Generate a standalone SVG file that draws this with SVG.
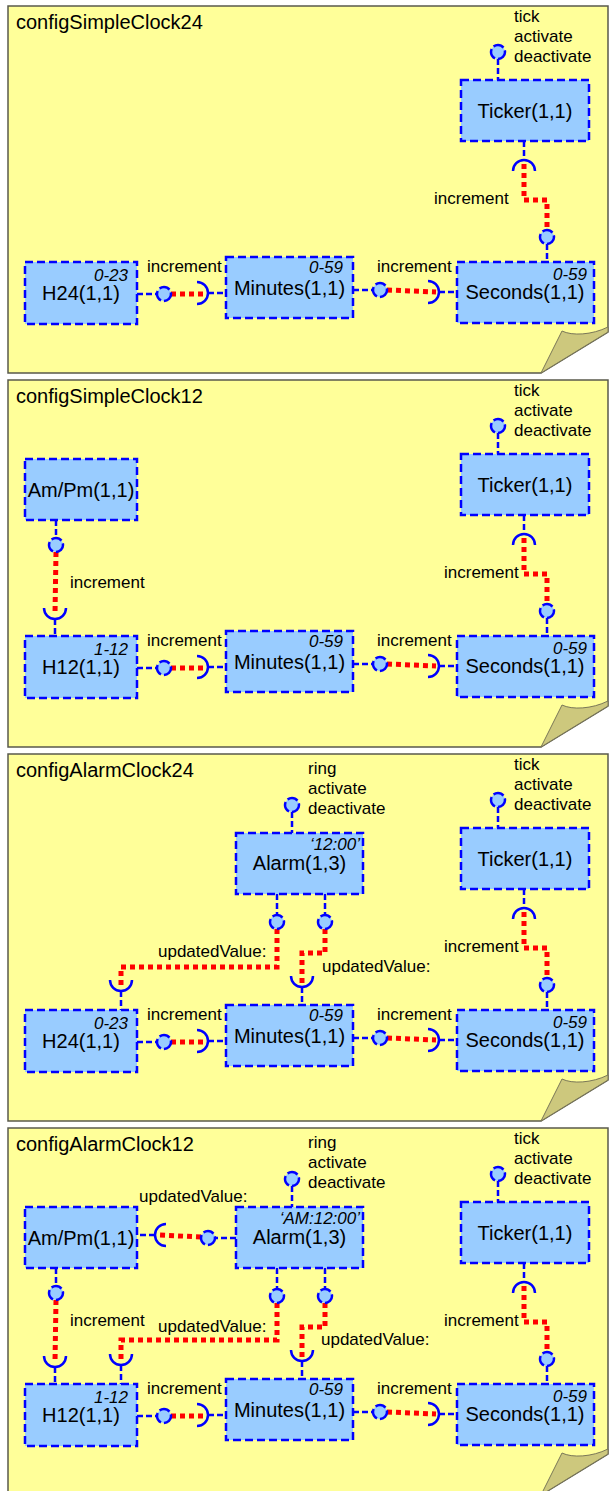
<svg xmlns="http://www.w3.org/2000/svg" width="609" height="1491" viewBox="0 0 609 1491">
<style>
.panel{fill:#ffff99;stroke:#5a5a4c;stroke-width:1.5}
.curl{fill:#cdc87d;stroke:#7a7758;stroke-width:1}
.box{fill:#99ccff;stroke:#0000ff;stroke-width:2.5;stroke-dasharray:8 4}
text{font-family:"Liberation Sans",Arial,Helvetica,sans-serif;fill:#000}
.title{font-size:20px}
.name{font-size:20px;text-anchor:middle}
.mult{font-size:17px;font-style:italic;text-anchor:end}
.lbl{font-size:17px}
.wire{fill:none;stroke:#0000ff;stroke-width:2.5;stroke-dasharray:6 3}
.lol{fill:#99ccff;stroke:#0000ff;stroke-width:2.5;stroke-dasharray:11 3}
.sock{fill:none;stroke:#0000ff;stroke-width:2.5}
.link{fill:none;stroke:#ff0000;stroke-width:5;stroke-dasharray:5 4}
</style>
<rect x="0" y="0" width="609" height="1491" fill="#ffffff"/>

<!-- ================= PANEL 1 ================= -->
<g id="panel1">
  <path class="panel" d="M8,6 H608 V332 L541,373 H8 Z"/>
  <path class="curl" d="M541,373 L562,331 C572,336 592,335 608,327 L608,332 Z"/>
  <text class="title" x="16" y="29">configSimpleClock24</text>
  <g id="p1-connectors">
    <path class="link" d="M524,164 V200 H547 V230"/>
    <path class="link" d="M171,294 H205"/>
    <path class="link" d="M387,290 L436,292"/>
    <path class="wire" d="M498,59 V80"/>
    <path class="wire" d="M524,141 V160"/>
    <path class="wire" d="M547,244 V262"/>
    <path class="wire" d="M137,294 H157"/>
    <path class="wire" d="M208,293 H226"/>
    <path class="wire" d="M353,290 H373"/>
    <path class="wire" d="M439,292 H457"/>
    <path class="sock" d="M513,171 A11,11 0 0 1 535,171"/>
    <path class="sock" d="M197,282 A11,11 0 0 1 197,304"/>
    <path class="sock" d="M428,281 A11,11 0 0 1 428,303"/>
    <circle class="lol" cx="498" cy="52" r="7"/>
    <circle class="lol" cx="547" cy="237" r="7"/>
    <circle class="lol" cx="164" cy="294" r="7"/>
    <circle class="lol" cx="380" cy="290" r="7"/>
    <text class="lbl" x="514" y="22">tick</text>
    <text class="lbl" x="514" y="42">activate</text>
    <text class="lbl" x="514" y="62">deactivate</text>
    <text class="lbl" x="434" y="204">increment</text>
    <text class="lbl" x="147" y="272">increment</text>
    <text class="lbl" x="377" y="272">increment</text>
  </g>
  <g id="p1-ticker"><rect class="box" x="461" y="80" width="128" height="61"/><text class="name" x="525" y="118">Ticker(1,1)</text></g>
  <g id="p1-seconds"><rect class="box" x="457" y="262" width="137" height="61"/><text class="name" x="525" y="299">Seconds(1,1)</text><text class="mult" x="587" y="280">0-59</text></g>
  <g id="p1-minutes"><rect class="box" x="226" y="257" width="127" height="61"/><text class="name" x="289.5" y="295">Minutes(1,1)</text><text class="mult" x="343" y="273">0-59</text></g>
  <g id="p1-h24"><rect class="box" x="25" y="262" width="112" height="62"/><text class="name" x="81" y="300">H24(1,1)</text><text class="mult" x="128" y="281">0-23</text></g>
</g>

<!-- ================= PANEL 2 ================= -->
<g id="panel2" transform="translate(0,374)">
  <path class="panel" d="M8,6 H608 V332 L541,373 H8 Z"/>
  <path class="curl" d="M541,373 L562,331 C572,336 592,335 608,327 L608,332 Z"/>
  <text class="title" x="16" y="29">configSimpleClock12</text>
  <g id="p2-connectors">
    <path class="link" d="M524,164 V200 H547 V230"/>
    <path class="link" d="M171,294 H205"/>
    <path class="link" d="M387,290 L436,292"/>
    <path class="link" d="M56,178 L55,240"/>
    <path class="wire" d="M498,59 V80"/>
    <path class="wire" d="M524,141 V160"/>
    <path class="wire" d="M547,244 V262"/>
    <path class="wire" d="M137,294 H157"/>
    <path class="wire" d="M208,293 H226"/>
    <path class="wire" d="M353,290 H373"/>
    <path class="wire" d="M439,292 H457"/>
    <path class="wire" d="M56,146 V164"/>
    <path class="wire" d="M55,245 V262"/>
    <path class="sock" d="M513,171 A11,11 0 0 1 535,171"/>
    <path class="sock" d="M197,282 A11,11 0 0 1 197,304"/>
    <path class="sock" d="M428,281 A11,11 0 0 1 428,303"/>
    <path class="sock" d="M44,234 A11,11 0 0 0 66,234"/>
    <circle class="lol" cx="498" cy="52" r="7"/>
    <circle class="lol" cx="547" cy="237" r="7"/>
    <circle class="lol" cx="164" cy="294" r="7"/>
    <circle class="lol" cx="380" cy="290" r="7"/>
    <circle class="lol" cx="56" cy="171" r="7"/>
    <text class="lbl" x="514" y="22">tick</text>
    <text class="lbl" x="514" y="42">activate</text>
    <text class="lbl" x="514" y="62">deactivate</text>
    <text class="lbl" x="444" y="204">increment</text>
    <text class="lbl" x="147" y="272">increment</text>
    <text class="lbl" x="377" y="272">increment</text>
    <text class="lbl" x="70" y="214">increment</text>
  </g>
  <g id="p2-ticker"><rect class="box" x="461" y="80" width="128" height="61"/><text class="name" x="525" y="118">Ticker(1,1)</text></g>
  <g id="p2-seconds"><rect class="box" x="457" y="262" width="137" height="61"/><text class="name" x="525" y="299">Seconds(1,1)</text><text class="mult" x="587" y="280">0-59</text></g>
  <g id="p2-minutes"><rect class="box" x="226" y="257" width="127" height="61"/><text class="name" x="289.5" y="295">Minutes(1,1)</text><text class="mult" x="343" y="273">0-59</text></g>
  <g id="p2-h12"><rect class="box" x="25" y="262" width="112" height="62"/><text class="name" x="81" y="300">H12(1,1)</text><text class="mult" x="128" y="281">1-12</text></g>
  <g id="p2-ampm"><rect class="box" x="25" y="85" width="112" height="61"/><text class="name" x="81" y="123">Am/Pm(1,1)</text></g>
</g>

<!-- ================= PANEL 3 ================= -->
<g id="panel3" transform="translate(0,748)">
  <path class="panel" d="M8,6 H608 V332 L541,373 H8 Z"/>
  <path class="curl" d="M541,373 L562,331 C572,336 592,335 608,327 L608,332 Z"/>
  <text class="title" x="16" y="29">configAlarmClock24</text>
  <g id="p3-connectors">
    <path class="link" d="M524,164 V200 H547 V230"/>
    <path class="link" d="M171,294 H205"/>
    <path class="link" d="M387,290 L436,292"/>
    <path class="link" d="M277,181 V219 H121 V240"/>
    <path class="link" d="M325,181 V205 H302 V236"/>
    <path class="wire" d="M498,59 V80"/>
    <path class="wire" d="M524,141 V160"/>
    <path class="wire" d="M547,244 V262"/>
    <path class="wire" d="M137,294 H157"/>
    <path class="wire" d="M208,293 H226"/>
    <path class="wire" d="M353,290 H373"/>
    <path class="wire" d="M439,292 H457"/>
    <path class="wire" d="M292,64 V85"/>
    <path class="wire" d="M277,146 V167"/>
    <path class="wire" d="M325,146 V167"/>
    <path class="wire" d="M121,243 V262"/>
    <path class="wire" d="M302,239 V257"/>
    <path class="sock" d="M513,171 A11,11 0 0 1 535,171"/>
    <path class="sock" d="M197,282 A11,11 0 0 1 197,304"/>
    <path class="sock" d="M428,281 A11,11 0 0 1 428,303"/>
    <path class="sock" d="M110,232 A11,11 0 0 0 132,232"/>
    <path class="sock" d="M291,228 A11,11 0 0 0 313,228"/>
    <circle class="lol" cx="498" cy="52" r="7"/>
    <circle class="lol" cx="547" cy="237" r="7"/>
    <circle class="lol" cx="164" cy="294" r="7"/>
    <circle class="lol" cx="380" cy="290" r="7"/>
    <circle class="lol" cx="292" cy="57" r="7"/>
    <circle class="lol" cx="277" cy="174" r="7"/>
    <circle class="lol" cx="325" cy="174" r="7"/>
    <text class="lbl" x="514" y="22">tick</text>
    <text class="lbl" x="514" y="42">activate</text>
    <text class="lbl" x="514" y="62">deactivate</text>
    <text class="lbl" x="308" y="26">ring</text>
    <text class="lbl" x="308" y="46">activate</text>
    <text class="lbl" x="308" y="66">deactivate</text>
    <text class="lbl" x="444" y="204">increment</text>
    <text class="lbl" x="147" y="272">increment</text>
    <text class="lbl" x="377" y="272">increment</text>
    <text class="lbl" x="158" y="209">updatedValue:</text>
    <text class="lbl" x="322" y="224">updatedValue:</text>
  </g>
  <g id="p3-ticker"><rect class="box" x="461" y="80" width="128" height="61"/><text class="name" x="525" y="118">Ticker(1,1)</text></g>
  <g id="p3-alarm"><rect class="box" x="236" y="85" width="127" height="61"/><text class="name" x="299.5" y="122">Alarm(1,3)</text><text class="mult" x="360" y="102">‘12:00’</text></g>
  <g id="p3-seconds"><rect class="box" x="457" y="262" width="137" height="61"/><text class="name" x="525" y="299">Seconds(1,1)</text><text class="mult" x="587" y="280">0-59</text></g>
  <g id="p3-minutes"><rect class="box" x="226" y="257" width="127" height="61"/><text class="name" x="289.5" y="295">Minutes(1,1)</text><text class="mult" x="343" y="273">0-59</text></g>
  <g id="p3-h24"><rect class="box" x="25" y="262" width="112" height="62"/><text class="name" x="81" y="300">H24(1,1)</text><text class="mult" x="128" y="281">0-23</text></g>
</g>

<!-- ================= PANEL 4 ================= -->
<g id="panel4" transform="translate(0,1122)">
  <path class="panel" d="M8,6 H608 V332 L541,373 H8 Z"/>
  <path class="curl" d="M541,373 L562,331 C572,336 592,335 608,327 L608,332 Z"/>
  <text class="title" x="16" y="29">configAlarmClock12</text>
  <g id="p4-connectors">
    <path class="link" d="M524,164 V200 H547 V230"/>
    <path class="link" d="M171,294 H205"/>
    <path class="link" d="M387,290 L436,292"/>
    <path class="link" d="M56,178 L55,240"/>
    <path class="link" d="M277,181 V218 H121 V240"/>
    <path class="link" d="M325,181 V205 H302 V236"/>
    <path class="link" d="M201,115 L160,113"/>
    <path class="wire" d="M498,59 V80"/>
    <path class="wire" d="M524,141 V160"/>
    <path class="wire" d="M547,244 V262"/>
    <path class="wire" d="M137,294 H157"/>
    <path class="wire" d="M208,293 H226"/>
    <path class="wire" d="M353,290 H373"/>
    <path class="wire" d="M439,292 H457"/>
    <path class="wire" d="M56,146 V164"/>
    <path class="wire" d="M55,245 V262"/>
    <path class="wire" d="M292,64 V85"/>
    <path class="wire" d="M277,146 V167"/>
    <path class="wire" d="M325,146 V167"/>
    <path class="wire" d="M121,243 V262"/>
    <path class="wire" d="M302,239 V257"/>
    <path class="wire" d="M236,116 H215"/>
    <path class="wire" d="M155,113 H137"/>
    <path class="sock" d="M513,171 A11,11 0 0 1 535,171"/>
    <path class="sock" d="M197,282 A11,11 0 0 1 197,304"/>
    <path class="sock" d="M428,281 A11,11 0 0 1 428,303"/>
    <path class="sock" d="M44,234 A11,11 0 0 0 66,234"/>
    <path class="sock" d="M110,232 A11,11 0 0 0 132,232"/>
    <path class="sock" d="M291,228 A11,11 0 0 0 313,228"/>
    <path class="sock" d="M166,102 A11,11 0 0 0 166,124"/>
    <circle class="lol" cx="498" cy="52" r="7"/>
    <circle class="lol" cx="547" cy="237" r="7"/>
    <circle class="lol" cx="164" cy="294" r="7"/>
    <circle class="lol" cx="380" cy="290" r="7"/>
    <circle class="lol" cx="56" cy="171" r="7"/>
    <circle class="lol" cx="292" cy="57" r="7"/>
    <circle class="lol" cx="277" cy="174" r="7"/>
    <circle class="lol" cx="325" cy="174" r="7"/>
    <circle class="lol" cx="208" cy="116" r="7"/>
    <text class="lbl" x="514" y="22">tick</text>
    <text class="lbl" x="514" y="42">activate</text>
    <text class="lbl" x="514" y="62">deactivate</text>
    <text class="lbl" x="308" y="26">ring</text>
    <text class="lbl" x="308" y="46">activate</text>
    <text class="lbl" x="308" y="66">deactivate</text>
    <text class="lbl" x="444" y="204">increment</text>
    <text class="lbl" x="147" y="272">increment</text>
    <text class="lbl" x="377" y="272">increment</text>
    <text class="lbl" x="70" y="204">increment</text>
    <text class="lbl" x="139" y="80">updatedValue:</text>
    <text class="lbl" x="158" y="210">updatedValue:</text>
    <text class="lbl" x="321" y="223">updatedValue:</text>
  </g>
  <g id="p4-ticker"><rect class="box" x="461" y="80" width="128" height="61"/><text class="name" x="525" y="118">Ticker(1,1)</text></g>
  <g id="p4-alarm"><rect class="box" x="236" y="85" width="127" height="61"/><text class="name" x="299.5" y="122">Alarm(1,3)</text><text class="mult" x="360" y="102">‘AM:12:00’</text></g>
  <g id="p4-seconds"><rect class="box" x="457" y="262" width="137" height="61"/><text class="name" x="525" y="299">Seconds(1,1)</text><text class="mult" x="587" y="280">0-59</text></g>
  <g id="p4-minutes"><rect class="box" x="226" y="257" width="127" height="61"/><text class="name" x="289.5" y="295">Minutes(1,1)</text><text class="mult" x="343" y="273">0-59</text></g>
  <g id="p4-h12"><rect class="box" x="25" y="262" width="112" height="62"/><text class="name" x="81" y="300">H12(1,1)</text><text class="mult" x="128" y="281">1-12</text></g>
  <g id="p4-ampm"><rect class="box" x="25" y="85" width="112" height="61"/><text class="name" x="81" y="123">Am/Pm(1,1)</text></g>
</g>
</svg>
